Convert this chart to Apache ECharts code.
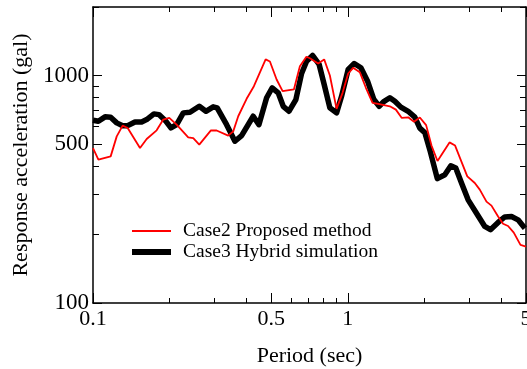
<!DOCTYPE html>
<html>
<head>
<meta charset="utf-8">
<script src="https://cdn.jsdelivr.net/npm/echarts@6/dist/echarts.min.js"></script>
<style>
  html, body { margin: 0; padding: 0; background: #fff; }
  #chart { width: 527px; height: 369px; }
</style>
</head>
<body>
<div id="chart"></div>
<script>
// Case2 (red, thin) - period (sec) / response acceleration (gal)
const periodsCase2 = [0.1, 0.105, 0.1173, 0.1239, 0.1307, 0.1368, 0.1529, 0.1624, 0.1777, 0.1887,
  0.1992, 0.2129, 0.2364, 0.2474, 0.2612, 0.2902, 0.3055, 0.3393, 0.355, 0.3714,
  0.4006, 0.4279, 0.4757, 0.4945, 0.5253, 0.5546, 0.6142, 0.6483, 0.6876, 0.7096,
  0.7645, 0.8074, 0.85, 0.903, 0.9532, 1.003, 1.049, 1.114, 1.177, 1.25,
  1.315, 1.461, 1.543, 1.628, 1.724, 1.818, 1.916, 2.028, 2.129, 2.248,
  2.505, 2.635, 2.77, 2.942, 3.148, 3.293, 3.499, 3.66, 3.886, 4.064,
  4.252, 4.477, 4.757, 5.0];
const accelCase2 = [480, 427, 441, 540, 602, 588, 480, 526, 574, 640,
  651, 608, 535, 531, 497, 574, 573, 544, 568, 662,
  790, 897, 1177, 1152, 960, 853, 868, 1099, 1209, 1191,
  1129, 1177, 1000, 713, 839, 1020, 1081, 1034, 883, 758,
  750, 732, 708, 651, 655, 626, 654, 605, 492, 421,
  508, 492, 427, 360, 337, 315, 279, 268, 240, 223,
  218, 204, 180, 177];

// Case3 (black, thick)
const periodsCase3 = [0.1, 0.105, 0.1115, 0.1173, 0.1239, 0.1307, 0.1368, 0.1461, 0.1552, 0.1624,
  0.1734, 0.1814, 0.1934, 0.2022, 0.2129, 0.2261, 0.2402, 0.2612, 0.2774, 0.2963,
  0.3071, 0.3344, 0.3605, 0.3829, 0.4252, 0.4477, 0.48, 0.5048, 0.5329, 0.5577,
  0.5871, 0.6253, 0.6583, 0.6887, 0.727, 0.7715, 0.8074, 0.85, 0.903, 0.9447,
  1.003, 1.059, 1.125, 1.195, 1.265, 1.327, 1.388, 1.461, 1.529, 1.614,
  1.724, 1.831, 1.916, 2.004, 2.106, 2.244, 2.401, 2.535, 2.651, 2.792,
  2.964, 3.197, 3.446, 3.627, 3.886, 4.128, 4.385, 4.654, 4.95];
const accelCase3 = [636, 629, 658, 655, 619, 602, 602, 625, 625, 640,
  678, 673, 629, 588, 608, 685, 689, 732, 696, 728,
  721, 608, 514, 544, 662, 608, 798, 883, 839, 732,
  696, 784, 1020, 1156, 1225, 1118, 913, 721, 685, 810,
  1063, 1129, 1081, 944, 784, 732, 770, 798, 770, 726,
  696, 656, 587, 561, 463, 352, 366, 401, 392, 337,
  284, 248, 217, 210, 226, 239, 240, 232, 213];

const xMajorTicks = [0.1, 0.5, 1, 5];
const xMinorTicks = [0.2, 0.3, 0.4, 0.6, 0.7, 0.8, 0.9, 2, 3, 4];
const yMajorTicks = [100, 500, 1000];
const yMinorTicks = [200, 300, 400, 600, 700, 800, 900, 2000];

const seriesNames = ['Case2 Proposed method', 'Case3 Hybrid simulation'];

const font = "'Liberation Serif', 'Times New Roman', serif";
const chart = echarts.init(document.getElementById('chart'));

const lineStyle = { color: '#000', width: 1.5 };

function xAxisDef(position, ticks, len, major) {
  return {
    type: 'log', logBase: 10, min: 0.1, max: 5, position,
    axisLine: { show: major, onZero: false, lineStyle },
    axisTick: { show: true, inside: true, length: len, customValues: ticks, lineStyle: { color: '#000', width: 1 } },
    axisLabel: major && position === 'bottom'
      ? { show: true, customValues: xMajorTicks, color: '#000', fontFamily: font, fontSize: 22, margin: 5, formatter: (v) => String(v) }
      : { show: false },
    splitLine: { show: false },
    name: major && position === 'bottom' ? 'Period (sec)' : '',
    nameLocation: 'middle', nameGap: 42,
    nameTextStyle: { color: '#000', fontFamily: font, fontSize: 22 }
  };
}

function yAxisDef(position, ticks, len, major) {
  return {
    type: 'log', logBase: 10, min: 100, max: 2000, position,
    axisLine: { show: major, onZero: false, lineStyle },
    axisTick: { show: true, inside: true, length: len, customValues: ticks, lineStyle: { color: '#000', width: 1 } },
    axisLabel: major && position === 'left'
      ? { show: true, customValues: yMajorTicks, color: '#000', fontFamily: font, fontSize: 23, margin: 4, formatter: (v) => String(v) }
      : { show: false },
    splitLine: { show: false },
    name: major && position === 'left' ? 'Response acceleration (gal)' : '',
    nameLocation: 'middle', nameGap: 57,
    nameTextStyle: { color: '#000', fontFamily: font, fontSize: 22 }
  };
}

chart.setOption({
  backgroundColor: '#fff',
  animation: false,
  grid: { left: 93, right: 1, top: 7, bottom: 66, outerBoundsMode: 'none', containLabel: false },
  legend: {
    orient: 'vertical',
    left: 124, top: 216,
    itemWidth: 39, itemHeight: 14, itemGap: 1,
    textStyle: { color: '#000', fontFamily: font, fontSize: 19.5, padding: [0, 0, 0, 7] },
    data: [
      { name: seriesNames[0], lineStyle: { width: 2 }, itemStyle: { opacity: 0 } },
      { name: seriesNames[1], lineStyle: { width: 6 }, itemStyle: { opacity: 0 } }
    ]
  },
  xAxis: [
    xAxisDef('bottom', xMajorTicks, 10, true),
    xAxisDef('bottom', xMinorTicks, 5, false),
    xAxisDef('top', xMajorTicks, 10, true),
    xAxisDef('top', xMinorTicks, 5, false)
  ],
  yAxis: [
    yAxisDef('left', yMajorTicks, 9, true),
    yAxisDef('left', yMinorTicks, 6, false),
    yAxisDef('right', yMajorTicks, 9, true),
    yAxisDef('right', yMinorTicks, 6, false)
  ],
  series: [
    {
      name: seriesNames[0], type: 'line', showSymbol: false, symbol: 'none', z: 3,
      data: periodsCase2.map((p, i) => [p, accelCase2[i]]),
      lineStyle: { color: '#ff0000', width: 1.8 },
      itemStyle: { color: '#ff0000' }
    },
    {
      name: seriesNames[1], type: 'line', showSymbol: false, symbol: 'none', z: 2,
      data: periodsCase3.map((p, i) => [p, accelCase3[i]]),
      lineStyle: { color: '#000', width: 5.5, join: 'round' },
      itemStyle: { color: '#000' }
    }
  ]
});
</script>
</body>
</html>
